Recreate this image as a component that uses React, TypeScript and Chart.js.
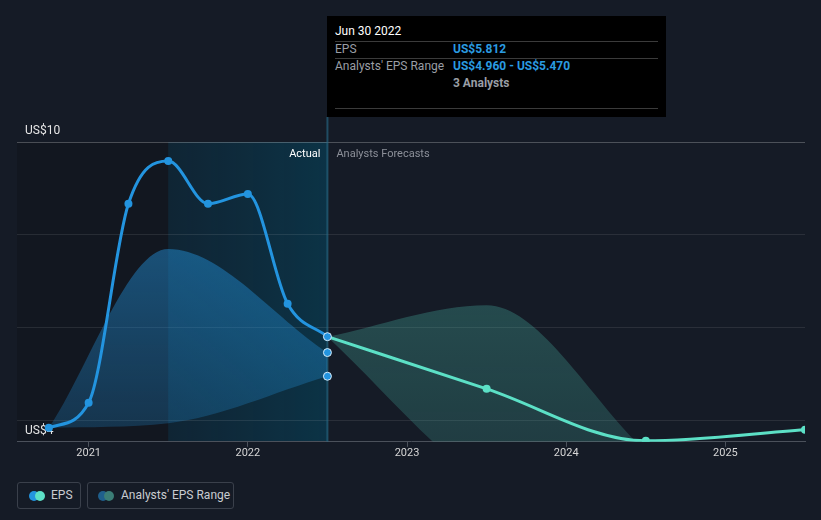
import React, { useEffect, useRef } from "react";
import { Chart, registerables } from "chart.js";

Chart.register(...registerables);

// ---- data ----
const actualDates = [2020.75, 2021.0, 2021.25, 2021.5, 2021.75, 2022.0, 2022.25, 2022.5];
const actualEps = [3.85, 4.39, 8.67, 9.59, 8.67, 8.88, 6.52, 5.812];
const forecastDates = [2022.5, 2023.5, 2024.5, 2025.5];
const forecastEps = [5.812, 4.69, 3.57, 3.81];
const pastRangeDates = [2020.75, 2021.5, 2022.5];
const pastRangeHigh = [3.85, 7.7, 5.47];
const pastRangeLow = [3.85, 3.95, 4.96];
const forecastRangeDates = [2022.5, 2023.5, 2024.5];
const forecastRangeHigh = [5.812, 6.49, 3.35];
const forecastRangeLow = [5.812, 2.6, 1.2];
const lastRangeDate = 2022.5;
const lastRangeValues = [5.47, 4.96];
const yTicks = [4, 6, 8, 10];
const xTicks = [2021, 2022, 2023, 2024, 2025];
const yTopLabel = "US$10";
const yBottomLabel = "US$4";
const highlightStart = 2021.5;
const highlightEnd = 2022.5;

const BG = "#151b26";
const BLUE = "#2394df";
const TEAL = "#5ce0c6";

const pts = (xs: number[], ys: number[]) => xs.map((x, i) => ({ x, y: ys[i] }));

const bgPlugin = {
  id: "bgShading",
  beforeDraw(chart: any) {
    const { ctx, chartArea, scales } = chart;
    const xs = scales.x;
    const x0 = chartArea.left;
    const x1 = xs.getPixelForValue(highlightStart);
    const x2 = xs.getPixelForValue(highlightEnd);
    ctx.save();
    ctx.fillStyle = "rgba(0,0,0,0.14)";
    ctx.fillRect(x0, chartArea.top, x1 - x0, chartArea.bottom - chartArea.top);
    const g = ctx.createLinearGradient(x1, 0, x2, 0);
    g.addColorStop(0, "rgba(0,70,100,0.24)");
    g.addColorStop(1, "rgba(0,85,115,0.42)");
    ctx.fillStyle = g;
    ctx.fillRect(x1, chartArea.top, x2 - x1, chartArea.bottom - chartArea.top);
    ctx.restore();
  },
  beforeDatasetsDraw(chart: any) {
    const { ctx, chartArea, scales } = chart;
    const x2 = scales.x.getPixelForValue(highlightEnd);
    ctx.save();
    ctx.strokeStyle = "rgba(40,110,140,0.6)";
    ctx.lineWidth = 2;
    ctx.beginPath();
    ctx.moveTo(x2, 117);
    ctx.lineTo(x2, chartArea.bottom);
    ctx.stroke();
    ctx.textBaseline = "middle";
    ctx.font = "12px Roboto";
    ctx.fillStyle = "#e6e6e6";
    ctx.textAlign = "left";
    ctx.fillText(yTopLabel, chartArea.left + 8, scales.y.getPixelForValue(10) - 11);
    ctx.fillText(yBottomLabel, chartArea.left + 8, chartArea.bottom - 11);
    ctx.font = "11px Roboto";
    ctx.textAlign = "right";
    ctx.fillStyle = "#ffffff";
    ctx.fillText("Actual", x2 - 7, chartArea.top + 12);
    ctx.textAlign = "left";
    ctx.fillStyle = "#8c9099";
    ctx.fillText("Analysts Forecasts", x2 + 9, chartArea.top + 12);
    ctx.restore();
  },
};

function vGrad(chart: any, top: string, bottom: string) {
  const { ctx, chartArea } = chart;
  if (!chartArea) return top;
  const g = ctx.createLinearGradient(0, chartArea.top, 0, chartArea.bottom);
  g.addColorStop(0, top);
  g.addColorStop(1, bottom);
  return g;
}

export default function App() {
  const ref = useRef<HTMLCanvasElement>(null);
  useEffect(() => {
    document.body.style.margin = "0";
    document.body.style.background = BG;
    Chart.defaults.font.family = "Roboto, sans-serif";
    const chart = new Chart(ref.current!, {
      type: "line",
      data: {
        datasets: [
          {
            data: pts(pastRangeDates, pastRangeLow),
            borderWidth: 0,
            pointRadius: 0,
            fill: false,
            cubicInterpolationMode: "monotone",
            order: 5,
          },
          {
            data: pts(pastRangeDates, pastRangeHigh),
            borderWidth: 0,
            pointRadius: 0,
            fill: "-1",
            backgroundColor: (c: any) => vGrad(c.chart, "rgba(35,150,225,0.58)", "rgba(35,150,225,0.22)"),
            cubicInterpolationMode: "monotone",
            order: 5,
          },
          {
            data: pts(forecastRangeDates, forecastRangeLow),
            borderWidth: 0,
            pointRadius: 0,
            fill: false,
            cubicInterpolationMode: "monotone",
            order: 5,
          },
          {
            data: pts(forecastRangeDates, forecastRangeHigh),
            borderWidth: 0,
            pointRadius: 0,
            fill: "-1",
            backgroundColor: (c: any) => vGrad(c.chart, "rgba(75,185,170,0.4)", "rgba(75,185,170,0.22)"),
            cubicInterpolationMode: "monotone",
            order: 5,
          },
          {
            data: pts(forecastDates, forecastEps),
            borderColor: TEAL,
            borderWidth: 3,
            backgroundColor: TEAL,
            pointRadius: (c: any) => (c.dataIndex === 0 ? 0 : 4),
            pointBorderWidth: 0,
            fill: false,
            cubicInterpolationMode: "monotone",
            order: 2,
          },
          {
            data: pts(actualDates, actualEps),
            borderColor: BLUE,
            borderWidth: 3,
            backgroundColor: BLUE,
            pointRadius: 4,
            pointBorderWidth: (c: any) => (c.dataIndex === actualDates.length - 1 ? 1 : 0),
            pointBorderColor: "#d8ecf8",
            fill: false,
            cubicInterpolationMode: "monotone",
            order: 1,
          },
          {
            data: lastRangeValues.map((y) => ({ x: lastRangeDate, y })),
            showLine: false,
            backgroundColor: BLUE,
            pointRadius: 4,
            pointBorderWidth: 1,
            pointBorderColor: "#d8ecf8",
            order: 0,
          },
        ] as any,
      },
      options: {
        animation: false,
        responsive: true,
        maintainAspectRatio: false,
        layout: { padding: { left: 17, right: 16, top: 142, bottom: 10 } },
        plugins: { legend: { display: false }, tooltip: { enabled: false } },
        events: [],
        scales: {
          x: {
            type: "linear",
            min: 2020.55,
            max: 2025.5,
            afterBuildTicks: (axis: any) => {
              axis.ticks = xTicks.map((v) => ({ value: v }));
            },
            ticks: {
              callback: (v: any) => String(v),
              color: "#d6d6d6",
              font: { size: 11 },
              padding: 0,
              maxRotation: 0,
              autoSkip: false,
            },
            grid: { drawOnChartArea: false, drawTicks: true, tickLength: 5, color: "#4b515b" },
            border: { display: true, color: "#4b515b" },
          },
          y: {
            type: "linear",
            min: 3.55,
            max: 10,
            afterBuildTicks: (axis: any) => {
              axis.ticks = yTicks.map((v) => ({ value: v }));
            },
            ticks: { display: false },
            grid: {
              drawTicks: false,
              color: (c: any) => (c.tick && c.tick.value === 10 ? "rgba(255,255,255,0.24)" : "rgba(255,255,255,0.09)"),
            },
            border: { display: false },
          },
        },
      } as any,
      plugins: [bgPlugin],
    });
    return () => chart.destroy();
  }, []);

  const rowLine = { position: "absolute" as const, left: 8, width: 323, height: 1, background: "#3b3b3b" };
  const grey = "#9a9ea5";
  const blueTxt = "#2a9be0";

  return (
    <div style={{ position: "relative", width: 821, height: 520, background: BG, fontFamily: "Roboto, sans-serif", overflow: "hidden" }}>
      <div style={{ position: "absolute", left: 0, top: 0, width: 821, height: 470 }}>
        <canvas ref={ref} />
      </div>
      <div style={{ position: "absolute", left: 327, top: 16, width: 339, height: 101, background: "#000", fontSize: 12 }}>
        <div style={{ position: "absolute", left: 8, top: 8, color: "#fff" }}>Jun 30 2022</div>
        <div style={{ ...rowLine, top: 25 }} />
        <div style={{ position: "absolute", left: 8, top: 26, color: grey }}>EPS</div>
        <div style={{ position: "absolute", left: 126, top: 26, color: blueTxt, fontWeight: 700 }}>US$5.812</div>
        <div style={{ ...rowLine, top: 42 }} />
        <div style={{ position: "absolute", left: 8, top: 43, color: grey }}>Analysts' EPS Range</div>
        <div style={{ position: "absolute", left: 126, top: 43, color: blueTxt, fontWeight: 700 }}>US$4.960 - US$5.470</div>
        <div style={{ position: "absolute", left: 126, top: 60, color: grey, fontWeight: 700 }}>3 Analysts</div>
        <div style={{ ...rowLine, top: 92 }} />
      </div>
      <div style={{ position: "absolute", left: 17, top: 482, width: 62, height: 25, border: "1px solid #3a404b", borderRadius: 3, fontSize: 12, color: "#c9ccd1" }}>
        <div style={{ position: "absolute", left: 11, top: 8, width: 10, height: 10, borderRadius: 5, background: BLUE }} />
        <div style={{ position: "absolute", left: 17, top: 8, width: 10, height: 10, borderRadius: 5, background: TEAL }} />
        <div style={{ position: "absolute", left: 33, top: 5 }}>EPS</div>
      </div>
      <div style={{ position: "absolute", left: 87, top: 482, width: 145, height: 25, border: "1px solid #3a404b", borderRadius: 3, fontSize: 12, color: "#c9ccd1" }}>
        <div style={{ position: "absolute", left: 10, top: 8, width: 10, height: 10, borderRadius: 5, background: "#1f5f8c" }} />
        <div style={{ position: "absolute", left: 16, top: 8, width: 10, height: 10, borderRadius: 5, background: "#3b7d76" }} />
        <div style={{ position: "absolute", left: 33, top: 5 }}>Analysts' EPS Range</div>
      </div>
    </div>
  );
}
